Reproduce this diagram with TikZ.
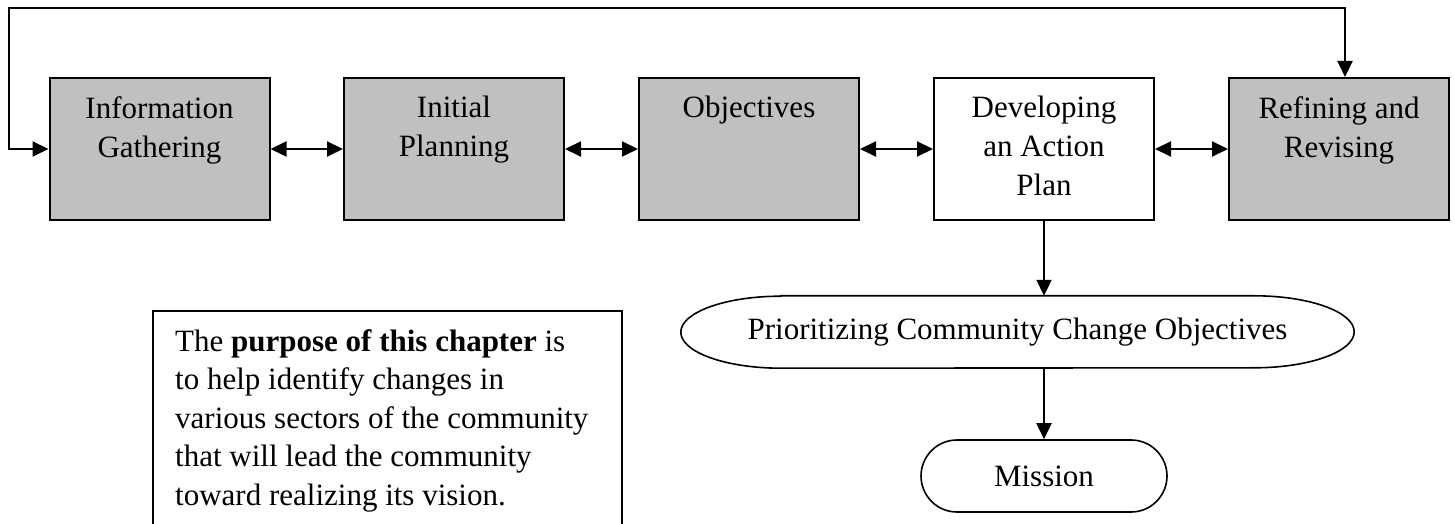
\documentclass[tikz,border=0pt]{standalone}
\usepackage{fontspec}
\setmainfont{Liberation Serif}
\usetikzlibrary{arrows.meta,calc,shapes.misc}
\definecolor{boxgray}{HTML}{C0C0C0}
\begin{document}
\begin{tikzpicture}[x=1pt,y=1pt,
  font=\fontsize{31}{39}\selectfont,
  stage/.style={draw,line width=2pt,minimum width=220pt,minimum height=142pt,inner sep=0pt},
  grey/.style={stage,fill=boxgray},
  label/.style={anchor=north,align=center,inner sep=0pt},
  link/.style={line width=2pt,-{Triangle[length=16pt,width=15pt]}},
  twoway/.style={line width=2pt,{Triangle[length=16pt,width=15pt]}-{Triangle[length=16pt,width=15pt]}}]
\useasboundingbox (0,0) rectangle (1455,524);

% the five stages of the planning cycle
\node[grey]  (b1) at (159.5,375) {};
\node[grey]  (b2) at (454,375) {};
\node[grey]  (b3) at (749,375) {};
\node[stage] (b4) at (1044,375) {};
\node[grey]  (b5) at (1339,375) {};

\node[label] (t1) at ($(b1.north)+(0,-19)$) {Information\\Gathering};
\node[label] (t2) at ($(b2.north)+(0,-19)$) {Initial\\Planning};
\node[label] (t3) at ($(b3.north)+(0,-19)$) {Objectives};
\node[label] (t4) at ($(b4.north)+(0,-19)$) {Developing\\an Action\\Plan};
\node[label] (t5) at ($(b5.north)+(0,-19)$) {Refining and\\Revising};

\draw[twoway] (b1.east) -- (b2.west);
\draw[twoway] (b2.east) -- (b3.west);
\draw[twoway] (b3.east) -- (b4.west);
\draw[twoway] (b4.east) -- (b5.west);

% feedback loop over the top
\coordinate (tr) at (1345,516);
\coordinate (tl) at (9,516);
\draw[twoway,line join=miter] (b5.north -| tr) -- (tr) -- (tl) |- (b1.west);

% priorities and mission
\node[minimum width=673pt,minimum height=72pt,inner sep=0pt] (pr) at (1017.5,192)
  {Prioritizing Community Change Objectives};
\draw[line width=1.6pt]
  ($(pr.north west)+(100,0)$) -- ($(pr.north east)+(-100,0)$)
  arc[start angle=90,end angle=-90,x radius=100,y radius=36]
  -- ($(pr.south west)+(100,0)$)
  arc[start angle=270,end angle=90,x radius=100,y radius=36] -- cycle;

\node[draw,line width=1.6pt,rounded rectangle,rounded rectangle arc length=180,
      minimum width=246pt,minimum height=72pt,inner sep=0pt] (ms) at (1044,48) {Mission};

\draw[link] (b4.south) -- (b4.south |- pr.north);
\draw[link] (ms.north |- pr.south) -- (ms.north);

% note on the purpose of the chapter
\draw[line width=2pt] (153,-10) -- (153,213) -- (622,213) -- (622,-10);
\node[anchor=north west,align=left,inner sep=0pt,font=\fontsize{31}{38.5}\selectfont] (note) at (175,195)
  {The \textbf{purpose of this chapter} is\\
   to help identify changes in\\
   various sectors of the community\\
   that will lead the community\\
   toward realizing its vision.};
\end{tikzpicture}
\end{document}
